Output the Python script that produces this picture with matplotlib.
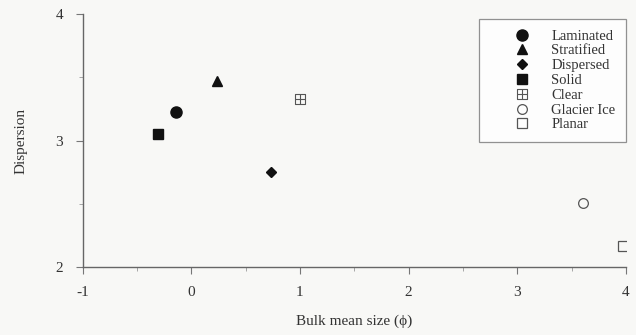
import matplotlib
matplotlib.use("Agg")
import matplotlib.pyplot as plt
from matplotlib.path import Path

# data
categories = ["Laminated", "Stratified", "Dispersed", "Solid", "Clear", "Glacier Ice", "Planar"]
bulk_mean_size = [-0.14, 0.24, 0.73, -0.31, 1.00, 3.61, 3.97]
dispersion = [3.23, 3.47, 2.75, 3.05, 3.33, 2.505, 2.16]

x_ticks = [-1, 0, 1, 2, 3, 4]
y_ticks = [2, 3, 4]

# square with a cross inside for "Clear"
clear_marker = Path(
    [(-1, -1), (1, -1), (1, 1), (-1, 1), (-1, -1),
     (0, -1), (0, 1), (-1, 0), (1, 0)],
    [Path.MOVETO, Path.LINETO, Path.LINETO, Path.LINETO, Path.CLOSEPOLY,
     Path.MOVETO, Path.LINETO, Path.MOVETO, Path.LINETO])

styles = {
    "Laminated": dict(marker="o", ms=8, mfc="#111111", mec="#111111"),
    "Stratified": dict(marker="^", ms=7.5, mfc="#111111", mec="#111111"),
    "Dispersed": dict(marker="D", ms=5, mfc="#111111", mec="#111111"),
    "Solid": dict(marker="s", ms=6.5, mfc="#111111", mec="#111111"),
    "Clear": dict(marker=clear_marker, ms=7, mfc="none", mec="#555555", mew=0.8),
    "Glacier Ice": dict(marker="o", ms=7, mfc="none", mec="#555555", mew=0.9),
    "Planar": dict(marker="s", ms=7, mfc="none", mec="#555555", mew=0.9),
}

plt.rcParams["font.family"] = ["Liberation Serif", "DejaVu Serif"]
bg = "#f8f8f6"
fig = plt.figure(figsize=(6.36, 3.35), dpi=100, facecolor=bg)
ax = fig.add_axes([0.130, 0.204, 0.854, 0.753], facecolor=bg)

for name, xv, yv in zip(categories, bulk_mean_size, dispersion):
    ax.plot([xv], [yv], linestyle="none", label=name, **styles[name])

ax.set_xlim(-1, 4)
ax.set_ylim(2, 4)
ax.set_xticks(x_ticks)
ax.set_yticks(y_ticks)
ax.set_xticks([v + 0.5 for v in x_ticks[:-1]], minor=True)
ax.set_yticks([2.5, 3.5], minor=True)
for side in ["top", "right"]:
    ax.spines[side].set_visible(False)
for side in ["left", "bottom"]:
    ax.spines[side].set_color("#666666")
    ax.spines[side].set_linewidth(1.0)
ax.tick_params(which="major", direction="out", length=5, color="#777777",
               labelsize=11, labelcolor="#333333", pad=9)
ax.tick_params(which="minor", direction="out", length=3, color="#999999")
ax.set_xticklabels(["-1", "0", "1", "2", "3", "4"])

ax.set_xlabel("Bulk mean size (\u03d5)", fontsize=11, color="#333333", labelpad=11)
ax.set_ylabel("Dispersion", fontsize=11, color="#333333", labelpad=20)

leg = ax.legend(loc="upper right", bbox_to_anchor=(1.0, 0.981), fontsize=10.5,
                frameon=True, fancybox=False, edgecolor="#777777",
                borderpad=0.7, labelspacing=0.11, handletextpad=-0.3,
                handlelength=4.6, borderaxespad=0.0)
leg.get_frame().set_facecolor("white")
leg.get_frame().set_linewidth(0.9)
for t in leg.get_texts():
    t.set_color("#333333")

fig.savefig("out.png", dpi=100, facecolor=bg)
